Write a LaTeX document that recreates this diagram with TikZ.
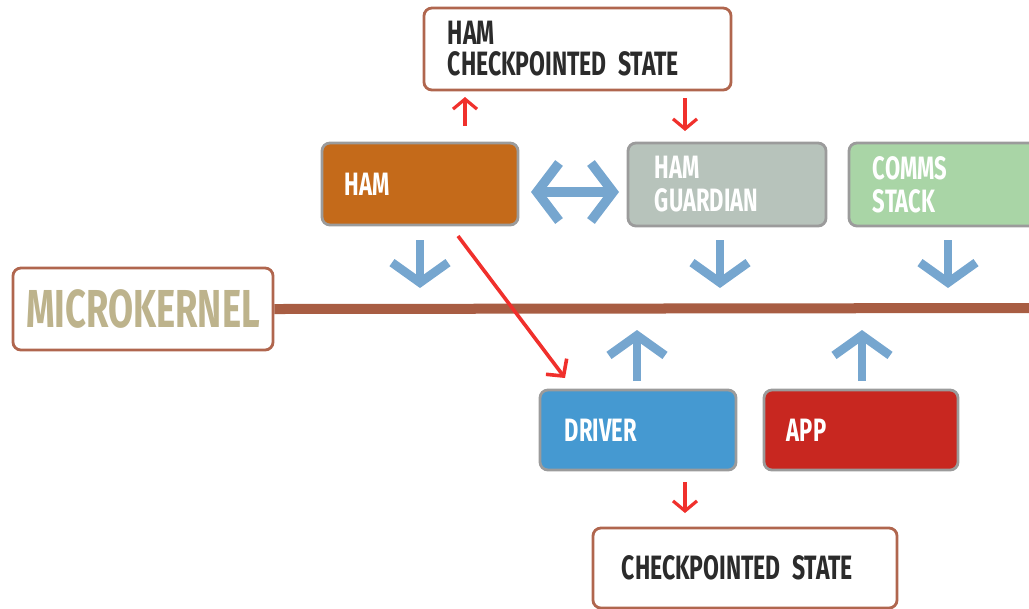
\documentclass[tikz,border=0pt]{standalone}
\usepackage{fontspec}
\setmainfont{Fira Sans}[FakeStretch=0.68]
\usetikzlibrary{arrows.meta}
\definecolor{rim}{HTML}{B0664E}
\definecolor{hamfill}{HTML}{C46A1A}
\definecolor{guardfill}{HTML}{B7C3BB}
\definecolor{commsfill}{HTML}{A9D5A6}
\definecolor{drvfill}{HTML}{4599D1}
\definecolor{appfill}{HTML}{C82720}
\definecolor{greyrim}{HTML}{9B9B9B}
\definecolor{flow}{HTML}{76A6CF}
\definecolor{hot}{HTML}{F0302C}
\definecolor{bus}{HTML}{A85D43}
\definecolor{kerntext}{HTML}{BDB38C}
\definecolor{ink}{HTML}{2B2B2B}
\tikzset{
  statebox/.style={draw=rim, line width=0.07cm, rounded corners=0.2cm, fill=white,
    text=ink, align=left, inner xsep=0pt, font=\bfseries\fontsize{24}{22}\selectfont},
  unitbox/.style={draw=greyrim, line width=0.07cm, rounded corners=0.2cm,
    text=white, align=left, inner xsep=0pt, font=\bfseries\fontsize{23}{23.5}\selectfont},
  bluearrow/.style={draw=flow, line width=0.22cm, -{Straight Barb[length=0.5cm, width=1.4cm]}},
  blueboth/.style={draw=flow, line width=0.24cm, {Straight Barb[length=0.55cm, width=1.45cm]}-{Straight Barb[length=0.55cm, width=1.45cm]}},
  redarrow/.style={draw=hot, line width=0.08cm, -{Straight Barb[length=0.25cm, width=0.6cm]}},
}
\begin{document}
\begin{tikzpicture}[x=0.025cm, y=-0.025cm]
\clip (0,0) rectangle (1029,608);

% kernel bus
\coordinate (busend) at (1035,308);
\node[statebox, minimum width=6.5cm, minimum height=2.05cm, align=center, text=kerntext,
  font=\bfseries\fontsize{38}{40}\selectfont] (kernel) at (143,309) {MICROKERNEL};
\draw[bus, line width=0.25cm] (kernel.east) -- (busend);

% checkpoint stores
\node[statebox, minimum width=7.675cm, minimum height=2.05cm, text width=6.475cm] (hamstate) at (577.5,49)
  {HAM\\CHECKPOINTED STATE};
\node[statebox, minimum width=7.6cm, minimum height=2.0cm, text width=6.15cm] (drvstate) at (745,568)
  {CHECKPOINTED STATE};

% processes
\node[unitbox, fill=hamfill, minimum width=4.9cm, minimum height=2.05cm, text width=3.75cm] (ham) at (420,184) {HAM};
\node[unitbox, fill=guardfill, minimum width=4.95cm, minimum height=2.075cm, text width=3.6cm] (guardian) at (727,184.5) {HAM\\GUARDIAN};
\node[unitbox, fill=commsfill, minimum width=4.9cm, minimum height=2.075cm, text width=3.7cm] (comms) at (947,184.5) {COMMS\\STACK};
\node[unitbox, fill=drvfill, minimum width=4.9cm, minimum height=2.0cm, text width=3.65cm] (driver) at (638,430) {DRIVER};
\node[unitbox, fill=appfill, minimum width=4.85cm, minimum height=2.0cm, text width=3.7cm] (app) at (861,430) {APP};

% message flow through the kernel
\coordinate (hamout) at (420,240);   \coordinate (hamin) at (420,288);
\coordinate (guardout) at (720,240); \coordinate (guardin) at (720,288);
\coordinate (commsout) at (948,240); \coordinate (commsin) at (948,288);
\coordinate (drvup) at (637,381);    \coordinate (drvtop) at (637,330);
\coordinate (appup) at (862,381);    \coordinate (apptop) at (862,330);
\draw[blueboth] (531,192) -- (619,192);
\draw[bluearrow] (hamout) -- (hamin);
\draw[bluearrow] (guardout) -- (guardin);
\draw[bluearrow] (commsout) -- (commsin);
\draw[bluearrow] (drvup) -- (drvtop);
\draw[bluearrow] (appup) -- (apptop);

% checkpointing
\coordinate (hamtop) at (465,126);   \coordinate (hamsave) at (465,97);
\coordinate (guardtop) at (685,98);  \coordinate (guardload) at (685,131);
\coordinate (drvbottom) at (685,482);\coordinate (drvsave) at (685,513);
\draw[redarrow] (hamtop) -- (hamsave);
\draw[redarrow] (guardtop) -- (guardload);
\draw[redarrow] (drvbottom) -- (drvsave);
\coordinate (diagstart) at (458,236);
\coordinate (diagend) at (565,378);
\draw[hot, line width=0.09cm, -{Straight Barb[length=0.3cm, width=0.65cm]}] (diagstart) -- (diagend);
\end{tikzpicture}
\end{document}
